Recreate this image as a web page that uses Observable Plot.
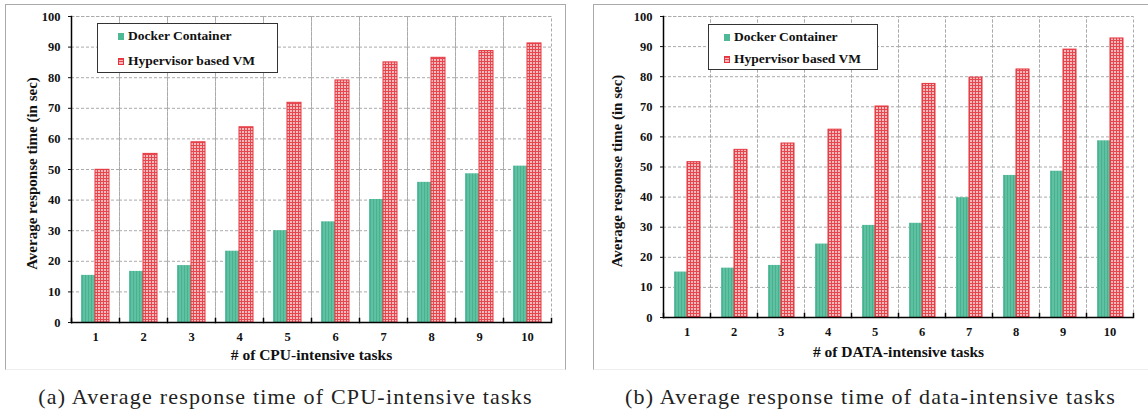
<!DOCTYPE html>
<html><head><meta charset="utf-8">
<script src="https://cdn.jsdelivr.net/npm/d3@7"></script>
<script src="https://cdn.jsdelivr.net/npm/@observablehq/plot@0.6"></script>
<style>
body{margin:0;background:#fff;width:1148px;height:413px;overflow:hidden;position:relative;font-family:"Liberation Serif","Times New Roman",serif}
.box{position:absolute;top:4px;height:366px;box-sizing:border-box;border:1.5px solid #aaa;border-bottom:1px solid #eee}
.chart{position:absolute;top:4px}
.caption{position:absolute;top:384px;font-size:22px;text-align:center;white-space:nowrap;color:#222;letter-spacing:1.2px}
.legend{position:absolute;background:#fff;border:1.5px solid #333;box-sizing:border-box;font-weight:bold;font-size:13.5px;color:#111}
.legend div{position:absolute;white-space:nowrap;line-height:16px}
.sw{display:inline-block;width:6px;height:7px;margin-right:4px;vertical-align:0px}
</style></head><body>
<div class="box" style="left:5px;width:561px"></div>
<div class="box" style="left:593px;width:560px"></div>
<div id="a" class="chart" style="left:5px"></div>
<div id="b" class="chart" style="left:593px"></div>
<div class="caption" style="left:5px;width:561px" id="capA"></div>
<div class="caption" style="left:593px;width:555px" id="capB"></div>
<script>
const tasks = [1, 2, 3, 4, 5, 6, 7, 8, 9, 10];
const series = ["Docker Container", "Hypervisor based VM"];
const cpuDocker = [15.4, 16.7, 18.6, 23.3, 30.0, 32.9, 40.2, 45.8, 48.6, 51.1];
const cpuVM = [49.9, 55.1, 58.9, 63.8, 71.8, 79.1, 85.0, 86.5, 88.7, 91.2];
const dataDocker = [15.1, 16.4, 17.3, 24.4, 30.6, 31.3, 39.8, 47.2, 48.6, 58.7];
const dataVM = [51.6, 55.7, 57.8, 62.4, 70.1, 77.6, 79.7, 82.4, 89.0, 92.7];
const yTicks = [0, 10, 20, 30, 40, 50, 60, 70, 80, 90, 100];
const yLabel = "Average response time (in sec)";
const xLabelA = "# of CPU-intensive tasks";
const xLabelB = "# of DATA-intensive tasks";
const captionA = "(a) Average response time of CPU-intensive tasks";
const captionB = "(b) Average response time of data-intensive tasks";

const font = '"Liberation Serif","Times New Roman",serif';

function chart(cfg) {
  const rows = [];
  tasks.forEach((t, i) => {
    rows.push({task: t, series: series[0], value: cfg.docker[i]});
    rows.push({task: t, series: series[1], value: cfg.vm[i]});
  });
  const plotH = cfg.height - cfg.mt - cfg.mb;
  const id = cfg.id;
  const svg = Plot.plot({
    width: cfg.width, height: cfg.height,
    marginLeft: cfg.ml, marginTop: cfg.mt, marginRight: cfg.mr, marginBottom: cfg.mb,
    style: {fontFamily: font, fontWeight: "bold", fontSize: "12.5px", color: "#111", background: "transparent", overflow: "visible"},
    fx: {domain: tasks, padding: 0},
    x: {domain: series, paddingInner: 0, paddingOuter: 0.69, axis: null},
    y: {domain: [0, 100], axis: null},
    marks: [
      Plot.gridY(yTicks, {stroke: "#aaa", strokeOpacity: 1, strokeDasharray: "3,2"}),
      Plot.frame({stroke: "#aaa", strokeDasharray: "3,2"}),
      Plot.barY(rows, {filter: d => d.series === series[0], fx: "task", x: "series", y: "value", fill: `url(#dock-${id})`}),
      Plot.barY(rows, {filter: d => d.series === series[1], fx: "task", x: "series", y: "value", fill: `url(#vm-${id})`, stroke: "#e5343d", strokeWidth: 1}),
      Plot.frame({anchor: "left", stroke: "#000", strokeWidth: 1.5, insetTop: plotH - 4}),
      Plot.frame({anchor: "right", stroke: "#000", strokeWidth: 1.5, insetTop: plotH - 4, facetAnchor: "right"}),
      Plot.frame({anchor: "left", stroke: "#000", strokeWidth: 1.5, facetAnchor: "left"}),
      Plot.ruleY([0], {stroke: "#000", strokeWidth: 1.5}),
      Plot.axisY(yTicks, {tickSize: 3, tickPadding: 8, label: null, fontSize: 12.5}),
      Plot.axisFx({anchor: "bottom", tickSize: 0, tickPadding: 10, label: null, fontSize: 12.5}),
      Plot.text([cfg.xLabel], {text: d => d, frameAnchor: "bottom", lineAnchor: "middle", textAnchor: "middle", dy: cfg.xdy, fontSize: 15.5, facet: "super"}),
      Plot.text([yLabel], {text: d => d, frameAnchor: "left", textAnchor: "middle", lineAnchor: "middle", rotate: -90, dx: cfg.ydx, dy: 4, fontSize: 15, facet: "super"})
    ]
  });
  d3.select(svg).insert("defs", ":first-child").html(`
    <pattern id="dock-${id}" width="3" height="10" patternUnits="userSpaceOnUse">
      <rect width="3" height="10" fill="#5ec1a1"/><rect width="1" height="10" fill="#4bb08f"/>
    </pattern>
    <pattern id="vm-${id}" width="3" height="3" patternUnits="userSpaceOnUse">
      <rect width="3" height="3" fill="#f4b9ba"/><rect width="3" height="1" fill="#e8464f"/><rect width="1" height="3" fill="#e8464f"/>
    </pattern>`);
  document.getElementById(id).appendChild(svg);
  // legend
  const lg = document.createElement("div");
  lg.className = "legend";
  Object.assign(lg.style, {left: cfg.legend.x + "px", top: cfg.legend.y + "px", width: cfg.legend.w + "px", height: cfg.legend.h + "px"});
  series.forEach((s, i) => {
    const e = document.createElement("div");
    e.style.left = cfg.legend.pad + "px";
    e.style.top = cfg.legend.rows[i] + "px";
    const sw = document.createElement("span");
    sw.className = "sw";
    sw.style.background = i === 0 ? "#4fb894" : "repeating-linear-gradient(0deg,#e8464f 0 1px,#f4b9ba 1px 2.5px),#f4b9ba";
    if (i === 1) sw.style.boxShadow = "inset 0 0 0 1px #e5343d";
    e.appendChild(sw);
    e.appendChild(document.createTextNode(s));
    lg.appendChild(e);
  });
  document.body.appendChild(lg);
}

chart({id: "a", docker: cpuDocker, vm: cpuVM, xLabel: xLabelA, width: 561, height: 366, ml: 61, mt: 12, mr: 11, mb: 48, xdy: 33, ydx: -39,
  legend: {x: 97, y: 23, w: 181, h: 50, pad: 20, rows: [4, 29]}});
chart({id: "b", docker: dataDocker, vm: dataVM, xLabel: xLabelB, width: 555, height: 366, ml: 66, mt: 12, mr: 11, mb: 53, xdy: 35, ydx: -46,
  legend: {x: 708, y: 24, w: 170, h: 46, pad: 15, rows: [4, 26]}});
document.getElementById("capA").textContent = captionA;
document.getElementById("capB").textContent = captionB;
</script>
</body></html>
